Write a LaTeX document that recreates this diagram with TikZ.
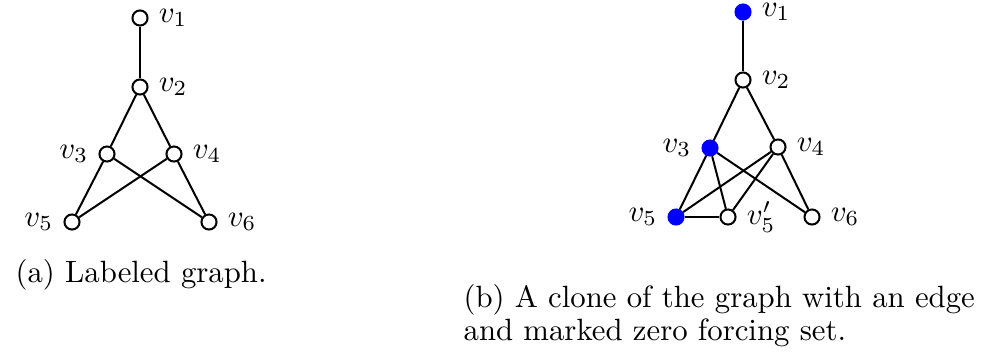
\documentclass[tikz,border=0pt]{standalone}
\usepackage{tikz}
\usetikzlibrary{positioning}
\tikzset{
  vtx/.style={circle,draw,fill=white,line width=0.65pt,minimum size=4.9pt,inner sep=0pt,label distance=0.5pt},
  zf/.style={vtx,draw=blue,fill=blue},
  edge/.style={line width=0.65pt},
  every label/.style={inner sep=3.33pt,outer sep=0pt}
}

\begin{document}
\begin{tikzpicture}[x=0.325pt,y=-0.325pt]
 \useasboundingbox (0,0) rectangle (987,354);
 % (a) the labeled graph
 \node[vtx,label={right:$v_1$}] (a1) at (140,18) {};
 \node[vtx,label={right:$v_2$}] (a2) at (140,87) {};
 \node[vtx,label={left:$v_3$}] (a3) at (107,154) {};
 \node[vtx,label={right:$v_4$}] (a4) at (174,154) {};
 \node[vtx,label={left:$v_5$}] (a5) at (72,222) {};
 \node[vtx,label={right:$v_6$}] (a6) at (209,222) {};
 \foreach \u/\w in {1/2,2/3,2/4,3/5,3/6,4/5,4/6}
   \draw[edge] (a\u) -- (a\w);
 % (b) clone with the edge, zero forcing set in blue
 \node[zf,label={[inner ysep=1pt]right:$v_1$}] (b1) at (743,12) {};
 \node[vtx,label={right:$v_2$}] (b2) at (743,80) {};
 \node[zf,label={left:$v_3$}] (b3) at (710,148) {};
 \node[vtx,label={right:$v_4$}] (b4) at (778,147) {};
 \node[zf,label={left:$v_5$}] (b5) at (676,217) {};
 \node[vtx,label={right:$v_5'$}] (b5p) at (728,217) {};
 \node[vtx,label={right:$v_6$}] (b6) at (812,217) {};
 \foreach \u/\w in {1/2,2/3,2/4,3/5,3/5p,3/6,4/5,4/5p,4/6,5/5p}
   \draw[edge] (b\u) -- (b\w);
 % captions
 \node[anchor=base west,inner sep=0pt] (capa) at (15,282) {(a) Labeled graph.};
 \node[anchor=north west,inner sep=0pt,align=left,font=\fontsize{10}{9.4}\selectfont] (capb) at (463,284)
   {(b) A clone of the graph with an edge\\and marked zero forcing set.};
\end{tikzpicture}
\end{document}
